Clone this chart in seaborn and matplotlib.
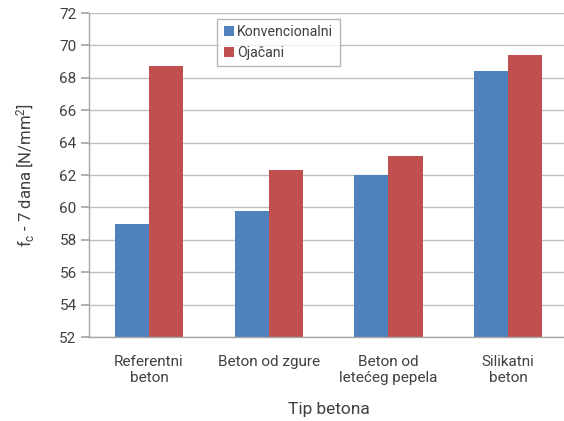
import matplotlib
matplotlib.use("Agg")
import matplotlib.pyplot as plt
import seaborn as sns
import pandas as pd

categories = ["Referentni\nbeton", "Beton od zgure", "Beton od\nletećeg pepela", "Silikatni\nbeton"]
konvencionalni = [59.0, 59.8, 62.0, 68.45]
ojacani = [68.75, 62.3, 63.15, 69.4]
series_names = ["Konvencionalni", "Ojačani"]

df = pd.DataFrame({
    "Tip": categories * 2,
    "Serija": [series_names[0]] * 4 + [series_names[1]] * 4,
    "Vrijednost": konvencionalni + ojacani,
})

sns.set_theme(style="white")
plt.rcParams['font.family'] = ['Roboto', 'DejaVu Sans']
plt.rcParams['mathtext.fontset'] = 'custom'
plt.rcParams['mathtext.rm'] = 'Roboto'
plt.rcParams['mathtext.it'] = 'Roboto'

txt = "#404040"
fig = plt.figure(figsize=(5.64, 4.21), dpi=100)
ax = fig.add_axes([0.158, 0.1995, 0.849, 0.7695])

sns.barplot(data=df, x="Tip", y="Vrijednost", hue="Serija",
            palette=["#4F81BD", "#C0504D"], width=0.57, ax=ax,
            saturation=1, edgecolor="none")

ax.set_xlim(-0.5, 3.5)
ax.set_ylim(52, 72)
ax.set_yticks(range(52, 73, 2))
ax.yaxis.grid(True, color="#BFBFBF", linewidth=1)
ax.set_axisbelow(True)
for s in ["top", "right"]:
    ax.spines[s].set_visible(False)
for s in ["left", "bottom"]:
    ax.spines[s].set_color("#A6A6A6")
    ax.spines[s].set_linewidth(1)
ax.tick_params(axis="y", left=True, length=6, color="#A6A6A6", labelsize=11, labelcolor=txt, pad=3)
ax.tick_params(axis="x", bottom=False, labelsize=11, labelcolor=txt, pad=7)

ax.set_xlabel("Tip betona", fontsize=12.5, color=txt, labelpad=12)
ax.set_ylabel(r"$\mathregular{f_c}$ - 7 dana [N/mm$\mathregular{^2}$]", fontsize=12, color=txt, labelpad=17)

leg = ax.legend(loc="upper left", bbox_to_anchor=(0.268, 0.983), frameon=True, fancybox=False,
                fontsize=10.2, handlelength=0.75, handleheight=0.75, handletextpad=0.2,
                borderpad=0.45, labelspacing=0.5, borderaxespad=0)
leg.get_frame().set_edgecolor("#A6A6A6")
leg.get_frame().set_linewidth(1)
for t in leg.get_texts():
    t.set_color(txt)

fig.savefig("out.png", dpi=100)
